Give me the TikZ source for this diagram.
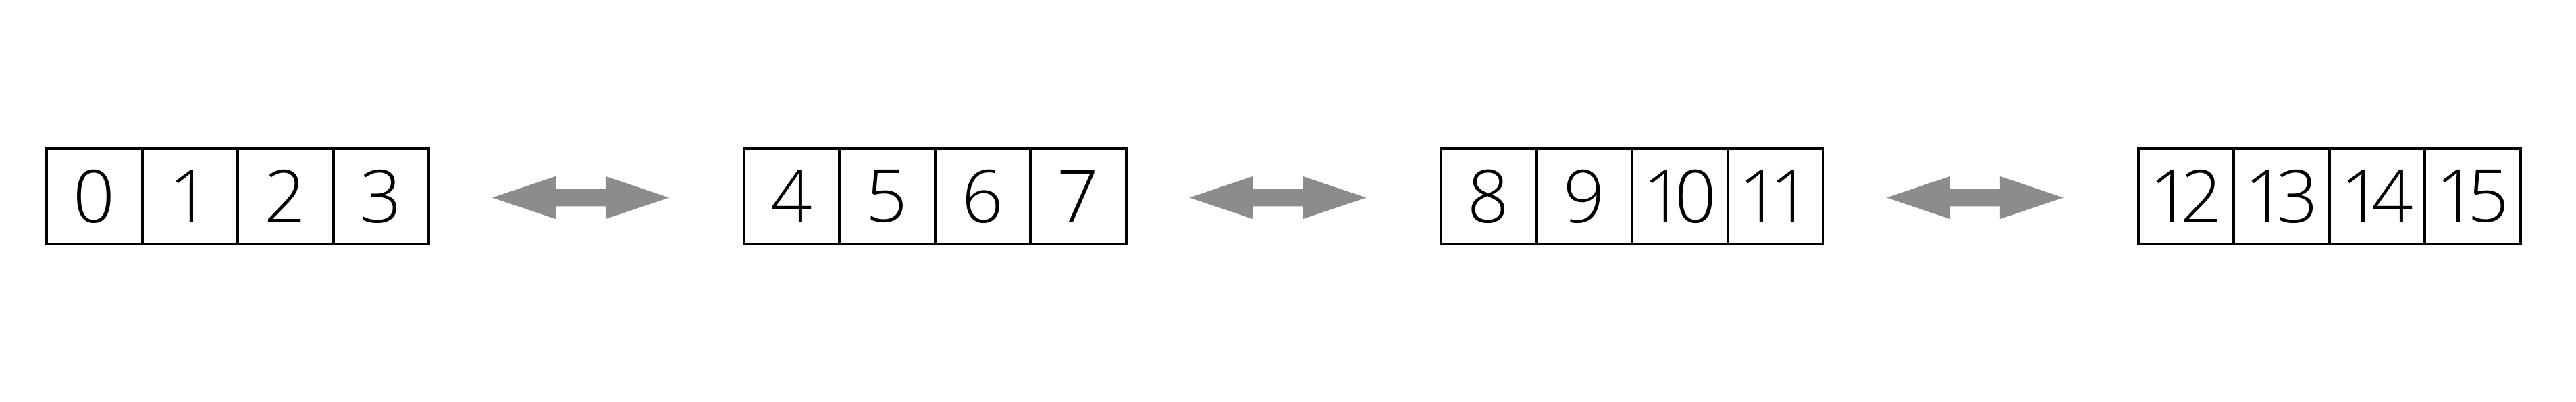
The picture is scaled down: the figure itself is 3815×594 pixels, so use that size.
\documentclass[tikz,border=0pt]{standalone}
\usepackage{fontspec}
\setmainfont{Open Sans Light}
\usetikzlibrary{calc}
\definecolor{arrowgray}{HTML}{8C8C8C}
\tikzset{
  cell/.style={draw=black, line width=2pt, minimum size=70.75pt, inner sep=0pt,
    font=\fontsize{54pt}{60pt}\selectfont},
  biarrow/.style={fill=arrowgray}
}
\newcommand{\cellnum}[1]{%
  \pgfmathtruncatemacro{\hi}{#1/10}%
  \pgfmathtruncatemacro{\lo}{mod(#1,10)}%
  \raisebox{-1pt}{\ifnum#1<10 #1\else\hi\kern-.14em\lo\fi}}
\begin{document}
\begin{tikzpicture}[x=0.5pt,y=-0.5pt]
\useasboundingbox (0,0) rectangle (3815,594);
\foreach \k in {0,...,3}{
  \foreach \j in {0,...,3}{
    \pgfmathtruncatemacro{\n}{4*\k+\j}
    \node[cell] (c\n) at ({139.75+1032.5*\k+141.5*\j},290.5) {\cellnum{\n}};
  }
}
\foreach \k/\a/\b in {1/3/4,2/7/8,3/11/12}{
  \coordinate (a\k) at ($(c\a.east)!0.482!(c\b.west)+(0,2)$);
  \fill[biarrow, shift={(a\k)}] (-131,0) -- (-37,-31.6) -- (-37,-12.8) -- (37,-12.8)
    -- (37,-31.6) -- (131,0) -- (37,31.6) -- (37,12.8) -- (-37,12.8) -- (-37,31.6) -- cycle;
}
\end{tikzpicture}
\end{document}
